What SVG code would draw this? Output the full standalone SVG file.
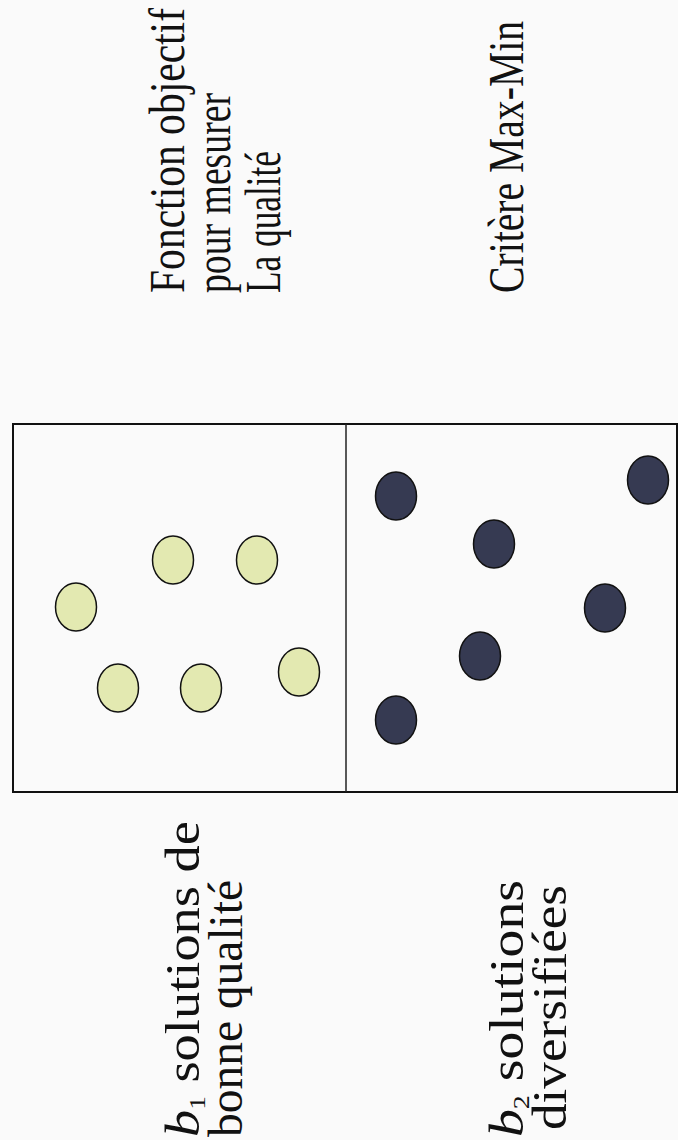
<svg xmlns="http://www.w3.org/2000/svg" width="678" height="1140" viewBox="0 0 678 1140">
<style>
.t{font-family:"Liberation Serif","Times New Roman",serif;font-size:48px;fill:#111;}
.tb{font-family:"Liberation Serif","Times New Roman",serif;font-size:50px;fill:#111;}
.y{fill:#e3e9b1;stroke:#111;stroke-width:1.5;}
.d{fill:#363a52;stroke:#111;stroke-width:1.5;}
.box{fill:none;stroke:#111;stroke-width:2;}
</style>
<rect width="678" height="1140" fill="#fafafa"/>
<g id="labels-top">
<text class="tb" transform="translate(184,293) rotate(-90)" textLength="285" lengthAdjust="spacingAndGlyphs">Fonction objectif</text>
<text class="tb" transform="translate(230,293) rotate(-90)" textLength="200" lengthAdjust="spacingAndGlyphs">pour mesurer</text>
<text class="tb" transform="translate(280,293) rotate(-90)" textLength="142" lengthAdjust="spacingAndGlyphs">La qualité</text>
<text class="tb" transform="translate(523,293) rotate(-90)" textLength="272" lengthAdjust="spacingAndGlyphs">Critère Max-Min</text>
</g>
<g id="box">
<rect class="box" x="13" y="424" width="664" height="368"/>
<line x1="346" y1="424" x2="346" y2="792" stroke="#222" stroke-width="1.5"/>
</g>
<g id="good-solutions">
<ellipse class="y" cx="76" cy="607" rx="20.5" ry="24"/>
<ellipse class="y" cx="173" cy="560" rx="20.5" ry="24"/>
<ellipse class="y" cx="257" cy="560" rx="20.5" ry="24"/>
<ellipse class="y" cx="118" cy="688" rx="20.5" ry="24"/>
<ellipse class="y" cx="201" cy="688" rx="20.5" ry="24"/>
<ellipse class="y" cx="299" cy="672" rx="20.5" ry="24"/>
</g>
<g id="diverse-solutions">
<ellipse class="d" cx="396" cy="496" rx="20.5" ry="24"/>
<ellipse class="d" cx="494" cy="544" rx="20.5" ry="24"/>
<ellipse class="d" cx="648" cy="480" rx="20.5" ry="24"/>
<ellipse class="d" cx="605" cy="608" rx="20.5" ry="24"/>
<ellipse class="d" cx="480" cy="656" rx="20.5" ry="24"/>
<ellipse class="d" cx="396" cy="720" rx="20.5" ry="24"/>
</g>
<g id="labels-bottom">
<text class="t" transform="translate(199,1137) rotate(-90)" textLength="316" lengthAdjust="spacingAndGlyphs"><tspan font-style="italic">b</tspan><tspan font-size="24" dy="6">1</tspan><tspan dy="-6"> solutions de</tspan></text>
<text class="t" transform="translate(242,1137) rotate(-90)" textLength="257" lengthAdjust="spacingAndGlyphs">bonne qualité</text>
<text class="t" transform="translate(523,1137) rotate(-90)" textLength="257" lengthAdjust="spacingAndGlyphs"><tspan font-style="italic">b</tspan><tspan font-size="24" dy="6">2</tspan><tspan dy="-6"> solutions</tspan></text>
<text class="t" transform="translate(566,1130) rotate(-90)" textLength="245" lengthAdjust="spacingAndGlyphs">diversifiées</text>
</g>
</svg>
